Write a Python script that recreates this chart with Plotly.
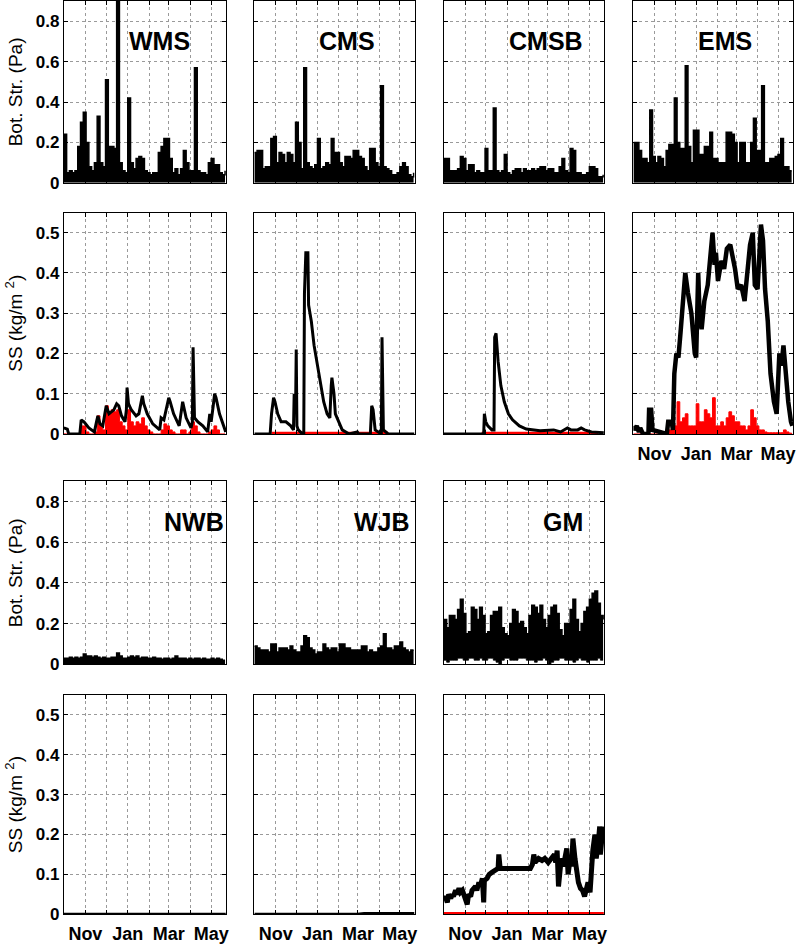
import plotly.graph_objects as go
import pandas as pd

# ---------------- time base ----------------
BASE = pd.Timestamp("2010-10-01")
X_END = "2011-05-23"
STEP = 4
N = 59
grid_days = [STEP * i for i in range(N)]

month_ticks = ["2010-11-01", "2011-01-01", "2011-03-01", "2011-05-01"]
month_text = ["Nov", "Jan", "Mar", "May"]
minor_ticks = ["2010-12-01", "2011-02-01", "2011-04-01"]

# ---------------- bottom stress (Pa), upper envelope every 4 days ----------------
wms_bs = [0.24, 0.05, 0.06, 0.05, 0.06, 0.18, 0.30, 0.35, 0.20, 0.08, 0.06, 0.10, 0.33, 0.10, 0.08,
          0.51, 0.18, 0.18, 0.17, 0.95, 0.10, 0.06, 0.05, 0.42, 0.10, 0.07, 0.12, 0.13, 0.12, 0.06,
          0.05, 0.04, 0.05, 0.05, 0.15, 0.18, 0.22, 0.22, 0.12, 0.05, 0.07, 0.04, 0.07, 0.16, 0.10,
          0.06, 0.06, 0.57, 0.06, 0.05, 0.05, 0.04, 0.10, 0.12, 0.09, 0.09, 0.05, 0.04, 0.06]
cms_bs = [0.15, 0.16, 0.16, 0.07, 0.08, 0.08, 0.22, 0.23, 0.10, 0.15, 0.14, 0.10, 0.15, 0.14, 0.10,
          0.30, 0.20, 0.07, 0.57, 0.10, 0.08, 0.07, 0.09, 0.22, 0.07, 0.08, 0.10, 0.09, 0.22, 0.15,
          0.15, 0.10, 0.08, 0.13, 0.13, 0.12, 0.16, 0.16, 0.13, 0.12, 0.08, 0.06, 0.17, 0.17, 0.10,
          0.08, 0.48, 0.08, 0.07, 0.06, 0.04, 0.04, 0.05, 0.08, 0.10, 0.08, 0.04, 0.03, 0.05]
cmsb_bs = [0.12, 0.12, 0.06, 0.06, 0.06, 0.07, 0.13, 0.12, 0.06, 0.09, 0.09, 0.05, 0.06, 0.05, 0.05,
           0.17, 0.06, 0.06, 0.37, 0.06, 0.05, 0.06, 0.14, 0.05, 0.04, 0.06, 0.07, 0.07, 0.05, 0.07,
           0.06, 0.06, 0.07, 0.06, 0.07, 0.08, 0.08, 0.06, 0.07, 0.07, 0.05, 0.05, 0.08, 0.12, 0.06,
           0.05, 0.17, 0.16, 0.05, 0.05, 0.04, 0.04, 0.05, 0.08, 0.08, 0.07, 0.03, 0.03, 0.04]
ems_bs = [0.20, 0.20, 0.16, 0.12, 0.12, 0.10, 0.36, 0.13, 0.10, 0.13, 0.12, 0.08, 0.16, 0.19, 0.19,
          0.42, 0.20, 0.17, 0.17, 0.58, 0.18, 0.10, 0.26, 0.26, 0.14, 0.14, 0.18, 0.18, 0.25, 0.12,
          0.12, 0.10, 0.10, 0.10, 0.25, 0.25, 0.24, 0.20, 0.10, 0.20, 0.20, 0.10, 0.10, 0.20, 0.32,
          0.16, 0.16, 0.48, 0.10, 0.10, 0.12, 0.12, 0.13, 0.14, 0.22, 0.08, 0.08, 0.06, 0.06]
nwb_bs = [0.03, 0.03, 0.035, 0.03, 0.035, 0.03, 0.035, 0.05, 0.04, 0.04, 0.035, 0.04, 0.035, 0.03, 0.035,
          0.03, 0.03, 0.035, 0.035, 0.055, 0.04, 0.03, 0.03, 0.035, 0.04, 0.035, 0.04, 0.03, 0.035, 0.035,
          0.03, 0.03, 0.035, 0.03, 0.03, 0.025, 0.03, 0.03, 0.025, 0.03, 0.04, 0.03, 0.03, 0.03, 0.025,
          0.03, 0.025, 0.03, 0.03, 0.025, 0.03, 0.025, 0.025, 0.03, 0.025, 0.03, 0.025, 0.02, 0.02]
wjb_bs = [0.09, 0.08, 0.07, 0.07, 0.07, 0.06, 0.10, 0.10, 0.06, 0.08, 0.08, 0.08, 0.07, 0.09, 0.07,
          0.06, 0.06, 0.09, 0.14, 0.13, 0.08, 0.07, 0.05, 0.06, 0.06, 0.10, 0.08, 0.07, 0.08, 0.08,
          0.06, 0.10, 0.10, 0.08, 0.08, 0.07, 0.07, 0.07, 0.07, 0.09, 0.09, 0.06, 0.07, 0.06, 0.06,
          0.08, 0.09, 0.15, 0.08, 0.08, 0.07, 0.09, 0.09, 0.11, 0.08, 0.07, 0.06, 0.07, 0.07]
gm_bs = [0.22, 0.18, 0.24, 0.24, 0.22, 0.27, 0.32, 0.25, 0.15, 0.16, 0.28, 0.27, 0.22, 0.28, 0.24,
         0.15, 0.16, 0.24, 0.26, 0.26, 0.28, 0.18, 0.15, 0.14, 0.20, 0.27, 0.26, 0.20, 0.21, 0.18,
         0.15, 0.24, 0.29, 0.28, 0.25, 0.29, 0.22, 0.18, 0.24, 0.28, 0.29, 0.25, 0.17, 0.14, 0.20,
         0.20, 0.27, 0.32, 0.22, 0.16, 0.20, 0.26, 0.28, 0.32, 0.35, 0.36, 0.30, 0.24, 0.22]
gm_bs_low = [0.02, 0.01, 0.02, 0.02, 0.02, 0.03, 0.03, 0.02, 0.02, 0.03, 0.03, 0.02, 0.02, 0.03, 0.02,
             0.02, 0.03, 0.03, 0.02, 0.01, 0.0, 0.02, 0.03, 0.03, 0.02, 0.02, 0.02, 0.03, 0.03, 0.03,
             0.02, 0.02, 0.02, 0.01, 0.02, 0.02, 0.03, 0.02, 0.0, 0.01, 0.02, 0.02, 0.03, 0.03, 0.02,
             0.02, 0.02, 0.01, 0.02, 0.03, 0.02, 0.02, 0.01, 0.02, 0.02, 0.02, 0.03, 0.02, 0.02]

# ---------------- suspended sediment (kg/m2) ----------------
wms_ss_days = [0, 5, 7, 23, 25, 29, 36, 44, 47, 49, 52, 56, 59, 61, 65, 68, 72, 76, 79, 83,
               88, 90, 91, 93, 97, 104, 108, 113, 115, 120, 128, 138, 140, 144, 148, 151, 153, 158, 166, 169,
               171, 176, 183, 185, 186, 188, 193, 200, 207, 210, 212, 215, 217, 219, 224, 233]
wms_ss = [0.015, 0.012, 0.0, 0.0, 0.035, 0.03, 0.015, 0.005, 0.03, 0.045, 0.025, 0.02, 0.05, 0.07, 0.05,
          0.055, 0.06, 0.075, 0.07, 0.045, 0.03, 0.06, 0.115, 0.075, 0.06, 0.045, 0.05, 0.095, 0.075, 0.05,
          0.025, 0.01, 0.04, 0.035, 0.07, 0.09, 0.08, 0.05, 0.02, 0.05, 0.08, 0.04, 0.015, 0.03, 0.215,
          0.04, 0.03, 0.02, 0.005, 0.05, 0.03, 0.07, 0.10, 0.09, 0.05, 0.005]
wms_red = [0, 0, 0, 0, 0, 0, 0.02, 0.02, 0.005, 0, 0, 0.005, 0.045, 0.02, 0.01,
           0.07, 0.05, 0.06, 0.055, 0.06, 0.03, 0.02, 0.01, 0.06, 0.03, 0.02, 0.03, 0.025, 0.04, 0.02,
           0.01, 0.005, 0, 0, 0, 0.01, 0.025, 0.02, 0.01, 0.005, 0, 0, 0.01, 0.01, 0,
           0.005, 0.03, 0.02, 0.005, 0, 0, 0, 0.005, 0.01, 0.02, 0.01, 0, 0, 0]

cms_ss_days = [0, 23, 25, 28, 30, 34, 39, 46, 53, 57, 58, 60, 61, 62, 64, 70, 72, 73, 75, 78,
               79, 83, 87, 92, 97, 101, 106, 110, 112, 113, 116, 118, 123, 128, 138, 150, 152, 169, 171, 173,
               176, 184, 185, 186, 188, 195, 233]
cms_ss = [0, 0, 0.05, 0.09, 0.08, 0.05, 0.03, 0.03, 0.02, 0.01, 0.10, 0.05, 0.21, 0.02, 0.01, 0.0, 0.0,
          0.35, 0.45, 0.45, 0.32, 0.28, 0.22, 0.17, 0.13, 0.08, 0.05, 0.04, 0.12, 0.14, 0.10, 0.05, 0.03,
          0.01, 0.0, 0.005, 0.0, 0.0, 0.07, 0.06, 0.01, 0.0, 0.0, 0.24, 0.01, 0.0, 0.0]
cms_red_days = [25, 195]
cms_red = [0.002, 0.002]

cmsb_ss_days = [0, 58, 59, 61, 64, 70, 73, 74, 76, 79, 83, 88, 94, 100, 110, 120, 140, 160, 170, 180,
                185, 195, 200, 205, 215, 233]
cmsb_ss = [0, 0, 0.05, 0.03, 0.02, 0.01, 0.01, 0.24, 0.25, 0.18, 0.12, 0.08, 0.05, 0.035, 0.02, 0.012,
           0.008, 0.01, 0.005, 0.015, 0.01, 0.01, 0.015, 0.01, 0.005, 0.003]
cmsb_red_days = [55, 225]
cmsb_red = [0.002, 0.002]

ems_ss_days = [0, 2, 5, 8, 10, 14, 17, 22, 23, 26, 28, 49, 51, 56, 58, 60, 63, 66, 69, 73,
               76, 80, 85, 90, 92, 95, 97, 100, 104, 109, 113, 116, 119, 121, 124, 129, 133, 137, 142, 146,
               149, 153, 158, 163, 167, 171, 175, 178, 182, 187, 190, 193, 197, 201, 206, 210, 214, 217, 220, 223,
               227, 231, 233]
ems_ss = [0.02, 0.01, 0.02, 0.005, 0.015, 0.0, 0.0, 0.0, 0.06, 0.06, 0.01, 0.0, 0.03, 0.03, 0.01, 0.15,
          0.20, 0.19, 0.25, 0.35, 0.40, 0.35, 0.30, 0.20, 0.19, 0.40, 0.30, 0.26, 0.33, 0.37, 0.44, 0.50,
          0.42, 0.45, 0.38, 0.43, 0.41, 0.46, 0.47, 0.44, 0.41, 0.36, 0.37, 0.33, 0.39, 0.47, 0.50, 0.37,
          0.36, 0.52, 0.48, 0.36, 0.28, 0.15, 0.08, 0.05, 0.20, 0.17, 0.22, 0.15, 0.08, 0.03, 0.02]
ems_red = [0, 0, 0, 0, 0, 0, 0, 0, 0, 0, 0, 0, 0, 0.01, 0.02,
           0.02, 0.08, 0.03, 0.04, 0.05, 0.02, 0.02, 0.02, 0.075, 0.03, 0.03, 0.06, 0.05, 0.04, 0.09,
           0.02, 0.02, 0.03, 0.02, 0.04, 0.055, 0.045, 0.03, 0.03, 0.02, 0.02, 0.01, 0.02, 0.06, 0.04,
           0.02, 0.01, 0.01, 0.005, 0.003, 0.003, 0.003, 0.003, 0.003, 0.003, 0.01, 0.005, 0.002, 0]

nwb_ss_days = [0, 233]
nwb_ss = [0.0, 0.0]
wjb_ss_days = [0, 150, 160, 200, 233]
wjb_ss = [0.0, 0.0, 0.002, 0.003, 0.002]

gm_ss_days = [0, 2, 5, 7, 10, 12, 14, 17, 19, 22, 24, 27, 29, 31, 34, 36, 39, 41, 46, 48,
              51, 53, 56, 58, 59, 63, 66, 70, 75, 79, 80, 82, 89, 99, 109, 118, 126, 129, 131, 133,
              138, 143, 147, 152, 157, 161, 163, 165, 167, 169, 171, 174, 176, 179, 181, 184, 186, 188, 191, 193,
              196, 199, 202, 205, 208, 210, 213, 215, 217, 220, 222, 225, 227, 228, 230, 232]
gm_ss = [0.035, 0.045, 0.03, 0.05, 0.04, 0.05, 0.045, 0.06, 0.05, 0.065, 0.055, 0.06, 0.05, 0.04, 0.025,
         0.05, 0.045, 0.06, 0.07, 0.06, 0.08, 0.07, 0.09, 0.03, 0.085, 0.09, 0.10, 0.105, 0.11, 0.115,
         0.15, 0.115, 0.115, 0.115, 0.115, 0.113, 0.115, 0.125, 0.15, 0.13, 0.14, 0.135, 0.14, 0.13, 0.14,
         0.15, 0.13, 0.16, 0.07, 0.13, 0.14, 0.12, 0.14, 0.165, 0.10, 0.14, 0.12, 0.19, 0.14, 0.11,
         0.08, 0.065, 0.06, 0.045, 0.07, 0.08, 0.055, 0.12, 0.16, 0.20, 0.14, 0.18, 0.22, 0.15, 0.21, 0.22]
gm_red_days = [0, 233]
gm_red = [0.002, 0.002]

names_top = ["WMS", "CMS", "CMSB", "EMS"]
names_bottom = ["NWB", "WJB", "GM"]


def dates(days):
    return [BASE + pd.Timedelta(days=int(d)) for d in days]


grid_x = dates(grid_days)

# ---------------- panel layout (pixel geometry -> paper) ----------------
W, H = 800, 952
cols = [(64, 227), (255, 416), (445, 606), (635, 795)]
rows = [(0, 184), (214, 438), (486, 671), (702, 924)]


def xdom(c):
    return [cols[c][0] / W, cols[c][1] / W]


def ydom(r):
    return [1 - rows[r][1] / H, 1 - rows[r][0] / H]


panels = []  # (row, col, kind)
for c in range(4):
    panels.append((0, c, "bs"))
for c in range(4):
    panels.append((1, c, "ss"))
for c in range(3):
    panels.append((2, c, "bs"))
for c in range(3):
    panels.append((3, c, "ss"))

fig = go.Figure()
FONT = "Liberation Sans, Arial, Helvetica, sans-serif"


def ax_ids(k):
    s = "" if k == 1 else str(k)
    return "x" + s, "y" + s


def add_fill(k, y, low=None):
    xa, ya = ax_ids(k)
    if low is not None:
        fig.add_trace(go.Scatter(x=grid_x, y=low, mode="lines", line=dict(color="black", width=0.8, shape="hv"),
                                 xaxis=xa, yaxis=ya, hoverinfo="skip"))
        fig.add_trace(go.Scatter(x=grid_x, y=y, mode="lines", line=dict(color="black", width=1.5, shape="hv"),
                                 fill="tonexty", fillcolor="black", xaxis=xa, yaxis=ya))
    else:
        fig.add_trace(go.Scatter(x=grid_x, y=y, mode="lines", line=dict(color="black", width=1.5, shape="hv"),
                                 fill="tozeroy", fillcolor="black", xaxis=xa, yaxis=ya))


def add_red_fill(k, y):
    xa, ya = ax_ids(k)
    fig.add_trace(go.Scatter(x=grid_x, y=y, mode="lines", line=dict(color="red", width=1, shape="hv"),
                             fill="tozeroy", fillcolor="red", xaxis=xa, yaxis=ya))


def add_line(k, days, y, color="black", width=3):
    xa, ya = ax_ids(k)
    fig.add_trace(go.Scatter(x=dates(days), y=y, mode="lines", line=dict(color=color, width=width),
                             xaxis=xa, yaxis=ya))


# row 1: bottom stress
add_fill(1, wms_bs)
add_fill(2, cms_bs)
add_fill(3, cmsb_bs)
add_fill(4, ems_bs)
# row 2: SS
add_red_fill(5, wms_red)
add_line(5, wms_ss_days, wms_ss)
add_line(6, cms_red_days, cms_red, "red", 3)
add_line(6, cms_ss_days, cms_ss)
add_line(7, cmsb_red_days, cmsb_red, "red", 3)
add_line(7, cmsb_ss_days, cmsb_ss)
add_red_fill(8, ems_red)
add_line(8, ems_ss_days, ems_ss, width=4.5)
# row 3: bottom stress
add_fill(9, nwb_bs)
add_fill(10, wjb_bs)
add_fill(11, gm_bs, gm_bs_low)
# row 4: SS
add_line(12, nwb_ss_days, nwb_ss, width=3)
add_line(13, wjb_ss_days, wjb_ss, width=3)
add_line(14, gm_ss_days, gm_ss, width=5)
add_line(14, gm_red_days, gm_red, "red", 3)

layout = dict(width=W, height=H, margin=dict(l=0, r=0, t=0, b=0), showlegend=False,
              plot_bgcolor="white", paper_bgcolor="white", font=dict(family=FONT, color="black"))

GRID = dict(showgrid=True, gridcolor="#9a9a9a", griddash="dot", gridwidth=1)
annotations = []
for k, (r, c, kind) in enumerate(panels, start=1):
    s = "" if k == 1 else str(k)
    show_x = (r == 3) or (r == 1 and c == 3)
    layout["xaxis" + s] = dict(
        domain=xdom(c), anchor="y" + s, type="date", range=[BASE, X_END],
        tickmode="array", tickvals=month_ticks, ticktext=month_text, showticklabels=show_x, tickangle=0,
        tickfont=dict(family=FONT, size=18, weight="bold", color="black"), ticklabelstandoff=3,
        minor=dict(tickmode="array", tickvals=minor_ticks, ticks="inside", ticklen=4, tickcolor="black", **GRID),
        showline=True, linecolor="black", linewidth=1, mirror="ticks",
        ticks="inside", ticklen=4, tickcolor="black", zeroline=False, fixedrange=True, **GRID)
    if kind == "bs":
        yt = dict(range=[0, 0.9], tickvals=[0, 0.2, 0.4, 0.6, 0.8], ticktext=["0", "0.2", "0.4", "0.6", "0.8"])
        ttl = "Bot. Str. (Pa)"
    else:
        yt = dict(range=[0, 0.55], tickvals=[0, 0.1, 0.2, 0.3, 0.4, 0.5],
                  ticktext=["0", "0.1", "0.2", "0.3", "0.4", "0.5"])
        ttl = "SS (kg/m <sup>2</sup>)"
    ya = dict(domain=ydom(r), anchor="x" + s, showticklabels=(c == 0), tickmode="array",
              tickfont=dict(family=FONT, size=17, weight="bold", color="black"),
              showline=True, linecolor="black", linewidth=1, mirror="ticks",
              ticks="inside", ticklen=4, tickcolor="black", zeroline=False, fixedrange=True, **GRID, **yt)
    if c == 0:
        ya["title"] = dict(text=ttl, font=dict(family=FONT, size=19, color="black"), standoff=8)
    layout["yaxis" + s] = ya
    if kind == "bs":
        name = names_top[c] if r == 0 else names_bottom[c]
        xoff = 0.39 if r == 0 else 0.605
        annotations.append(dict(text="<b>%s</b>" % name, xref="x%s domain" % s, yref="y" + s,
                                x=xoff, y=0.7, xanchor="left", yanchor="middle", showarrow=False,
                                font=dict(family=FONT, size=25, color="black")))
layout["annotations"] = annotations
fig.update_layout(**layout)
fig.write_html("out.html", config={"displayModeBar": False},
               post_script="document.body.style.margin='0';document.body.style.overflow='hidden';")
